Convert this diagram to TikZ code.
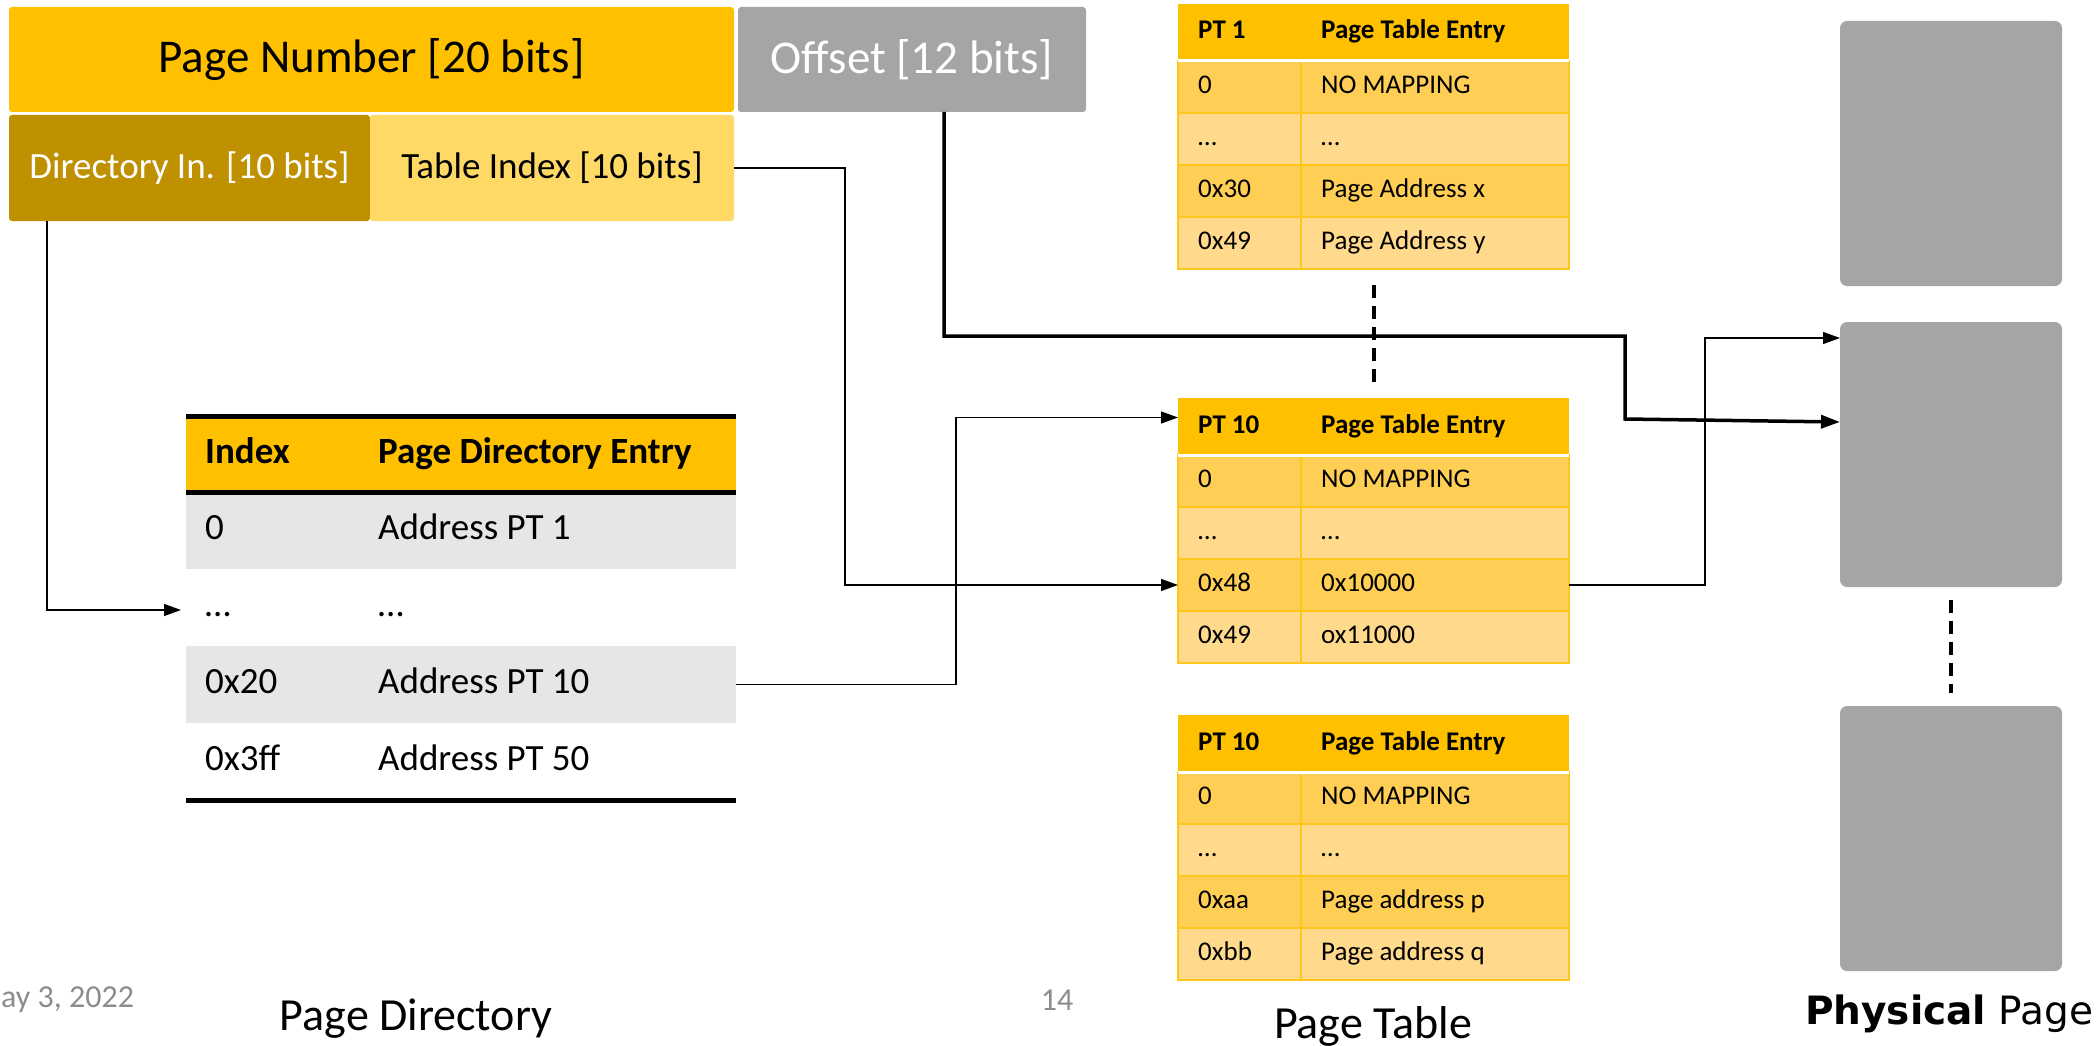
\documentclass[tikz,border=0pt]{standalone}
\usepackage{fontspec}
\setmainfont{Carlito}
\newfontfamily\verdfont{DejaVu Sans}
\usetikzlibrary{arrows.meta}
\definecolor{amber}{HTML}{FFC000}
\definecolor{offgray}{HTML}{A5A5A5}
\definecolor{dirgold}{HTML}{BF9000}
\definecolor{tilight}{HTML}{FFD966}
\definecolor{pdgray}{HTML}{E7E6E6}
\definecolor{ptdark}{HTML}{FFCF55}
\definecolor{ptlight}{HTML}{FFD98C}
\definecolor{ptline}{HTML}{FFC61A}
\definecolor{footgray}{HTML}{8C8C8C}
\newcommand\ptrow[5]{%
  \node[ptrowbox, fill=#3] (#1) at (1178,#2) {};
  \node[pttext] (#1-a) at ([xshift=20pt]#1.west) {#4};
  \node[pttext] (#1-b) at ([xshift=143pt]#1.west) {#5};
}
\newcommand\pdrow[5]{%
  \node[pdrowbox, fill=#3] (#1) at (186,#2) {};
  \node[pdtext] (#1-a) at ([xshift=19pt]#1.west) {#4};
  \node[pdtext] (#1-b) at ([xshift=192pt]#1.west) {#5};
}
\newcommand\pttab[7]{%
  \node[pthead] (#1h) at (1178,#2) {};
  \node[pttext, font=\fontsize{27pt}{32pt}\selectfont\bfseries] (#1h-a) at ([xshift=20pt]#1h.west) {#3};
  \node[pttext, font=\fontsize{27pt}{32pt}\selectfont\bfseries] (#1h-b) at ([xshift=143pt]#1h.west) {Page Table Entry};
  \ptrow{#1r1}{\the\numexpr#2+57\relax}{ptdark}{0}{NO MAPPING}
  \ptrow{#1r2}{\the\numexpr#2+109\relax}{ptlight}{…}{…}
  \ptrow{#1r3}{\the\numexpr#2+161\relax}{ptdark}{#4}{#5}
  \ptrow{#1r4}{\the\numexpr#2+213\relax}{ptlight}{#6}{#7}
  \draw[ptline, line width=1.2pt] ([xshift=123pt]#1r1.north west) -- ([xshift=123pt]#1r4.south west);
  \draw[white, line width=3pt] (#1h.south west) -- (#1h.south east);
}
\begin{document}
\begin{tikzpicture}[x=1pt,y=-1pt,
  topbox/.style={anchor=north west, inner sep=0pt, outer sep=0pt, rounded corners=3pt},
  bigfont/.style={font=\fontsize{47pt}{56pt}\selectfont},
  midfont/.style={font=\fontsize{37pt}{44pt}\selectfont},
  pdrowbox/.style={anchor=north west, inner sep=0pt, outer sep=0pt, minimum width=550pt, minimum height=77pt},
  pdtext/.style={anchor=west, inner sep=0pt, font=\fontsize{37pt}{44pt}\selectfont, text height=26pt, text depth=8pt},
  ptrowbox/.style={anchor=north west, inner sep=0pt, outer sep=0pt, minimum width=391pt, minimum height=52pt, draw=ptline, line width=1.2pt},
  pthead/.style={anchor=north west, inner sep=0pt, outer sep=0pt, minimum width=391pt, minimum height=57pt, fill=amber},
  pttext/.style={anchor=west, inner sep=0pt, font=\fontsize{27pt}{32pt}\selectfont, text height=19pt, text depth=6pt},
  phys/.style={anchor=north west, inner sep=0pt, outer sep=0pt, minimum width=222pt, minimum height=265pt, fill=offgray, rounded corners=7pt},
  conn/.style={draw=black, line width=1.3pt, -{Triangle[length=17pt,width=12pt]}},
  thickconn/.style={draw=black, line width=3.5pt, -{Triangle[length=19pt,width=13pt]}},
  dashline/.style={draw=black, line width=4pt, dash pattern=on 13pt off 8pt},
  labelfont/.style={font=\fontsize{46pt}{54pt}\selectfont},
  footfont/.style={font=\fontsize{32pt}{38pt}\selectfont, text=footgray}
]
\useasboundingbox (0,0) rectangle (2097,1046);

% virtual address fields
\node[topbox, fill=amber, minimum width=725pt, minimum height=105pt, bigfont] (pn) at (9,7) {Page Number [20 bits]};
\node[topbox, fill=offgray, text=white, minimum width=348pt, minimum height=105pt, bigfont] (off) at (738,7) {Offset [12 bits]};
\node[topbox, fill=dirgold, text=white, minimum width=361pt, minimum height=106pt, midfont] (dir) at (9,115) {Directory In. [10 bits]};
\node[topbox, fill=tilight, minimum width=364pt, minimum height=106pt, midfont] (ti) at (370,115) {Table Index [10 bits]};

% page directory
\node[pdrowbox, fill=amber, minimum height=76pt] (pdh) at (186,416) {};
\node[pdtext, font=\fontsize{37pt}{44pt}\selectfont\bfseries] (pdh-a) at ([xshift=19pt]pdh.west) {Index};
\node[pdtext, font=\fontsize{37pt}{44pt}\selectfont\bfseries] (pdh-b) at ([xshift=192pt]pdh.west) {Page Directory Entry};
\pdrow{pd1}{492}{pdgray}{0}{Address PT 1}
\pdrow{pd2}{569}{white}{…}{…}
\pdrow{pd3}{646}{pdgray}{0x20}{Address PT 10}
\pdrow{pd4}{723}{white}{0x3ff}{Address PT 50}
\draw[line width=5pt] (pdh.north west) -- (pdh.north east);
\draw[line width=5pt] (pdh.south west) -- (pdh.south east);
\draw[line width=5pt] (pd4.south west) -- (pd4.south east);

% page tables
\pttab{pta}{4}{PT 1}{0x30}{Page Address x}{0x49}{Page Address y}
\pttab{ptb}{398}{PT 10}{0x48}{0x10000}{0x49}{ox11000}
\pttab{ptc}{715}{PT 10}{0xaa}{Page address p}{0xbb}{Page address q}

% physical pages
\node[phys] (ph1) at (1840,21) {};
\node[phys] (ph2) at (1840,322) {};
\node[phys] (ph3) at (1840,706) {};

% dashed continuations
\draw[dashline] ([yshift=-16pt]ptar4.south) -- ([yshift=14pt]ptbh.north);
\draw[dashline] ([yshift=-13pt]ph2.south) -- ([yshift=13pt]ph3.north);

% connectors
\draw[conn] ([xshift=38pt]dir.south west) |- ([xshift=-5pt,yshift=-2.5pt]pd2.west);
\draw[conn] (ti.east) -- ++(111,0) |- (ptbr3.west);
\draw[conn] (pd3.east) -- ++(220,0) |- ([yshift=9pt]ptbh.west);
\draw[conn] (ptbr3.east) -- ++(136,0) |- ([yshift=-16pt]ph2.north west);
\draw[thickconn] ([xshift=32pt]off.south) -- ++(0,224) -- ++(681,0) -- ++(0,83) -- ([yshift=-100pt]ph2.north west);

% labels
\node[labelfont] (lpd) at (416,1019) {Page Directory};
\node[labelfont] (lpt) at (1373,1026) {Page Table};
\node[font=\verdfont\fontsize{39pt}{46pt}\selectfont] (lph) at (1949,1014) {\textbf{Physical} Page};
\node[footfont, anchor=west, inner sep=0pt] (date) at (1,1000) {ay 3, 2022};
\node[footfont] (pgno) at (1057,1000) {14};
\end{tikzpicture}
\end{document}
